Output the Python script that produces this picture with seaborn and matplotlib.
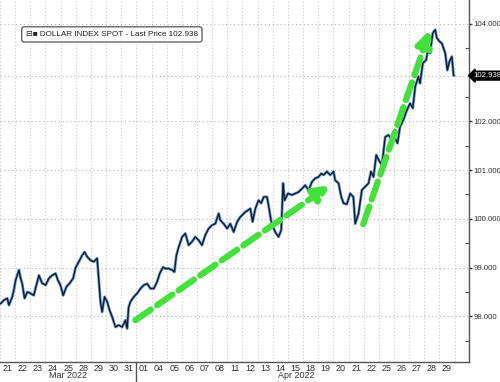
import numpy as np
import pandas as pd
import seaborn as sns
import matplotlib.pyplot as plt
from matplotlib.ticker import FixedLocator, FormatStrFormatter

# trading-day position (0 = Mar 21) and DXY level
pos = [-0.46, -0.25, -0.02, 0.09, 0.31, 0.41, 0.53, 0.75, 0.86, 0.96, 1.12, 1.30, 1.52, 1.73,
       1.85, 2.07, 2.28, 2.51, 2.73, 2.94, 3.17, 3.32, 3.49, 3.67, 3.89, 4.10, 4.33, 4.48,
       4.70, 4.92, 5.08, 5.26, 5.47, 5.69, 5.91, 6.02, 6.13, 6.24, 6.40, 6.57, 6.74, 6.90,
       7.12, 7.33, 7.56, 7.78, 7.89, 7.99, 8.11, 8.33, 8.55, 8.77, 8.99, 9.21, 9.43, 9.65,
       9.87, 10.04, 10.27, 10.41, 10.63, 10.86, 11.01, 11.14, 11.29, 11.52, 11.73, 11.95,
       12.17, 12.39, 12.61, 12.83, 13.05, 13.27, 13.49, 13.71, 13.93, 14.04, 14.26, 14.49,
       14.70, 14.92, 15.15, 15.36, 15.69, 16.02, 16.17, 16.35, 16.56, 16.74, 16.90, 17.12,
       17.22, 17.40, 17.56, 17.72, 17.88, 18.06, 18.18, 18.28, 18.50, 18.77, 18.99, 19.20,
       19.43, 19.64, 19.86, 20.09, 20.30, 20.52, 20.70, 20.86, 21.07, 21.29, 21.51, 21.62,
       21.84, 22.02, 22.17, 22.39, 22.61, 22.82, 22.94, 23.16, 23.38, 23.60, 23.82, 23.98,
       24.15, 24.33, 24.48, 24.70, 24.92, 25.14, 25.36, 25.58, 25.73, 25.90, 26.12, 26.35,
       26.56, 26.74, 26.90, 27.11, 27.22, 27.40, 27.62, 27.77, 27.88, 28.06, 28.22, 28.33,
       28.50, 28.66, 28.88, 29.02, 29.16, 29.32, 29.43, 29.47]
price = [98.26, 98.33, 98.37, 98.23, 98.40, 98.53, 98.74, 98.95, 98.78, 98.68, 98.37, 98.50,
         98.47, 98.43, 98.58, 98.84, 98.68, 98.64, 98.78, 98.84, 98.88, 98.74, 98.64, 98.43,
         98.61, 98.68, 98.78, 98.99, 99.12, 99.25, 99.32, 99.22, 99.15, 99.12, 99.19, 98.74,
         98.30, 98.09, 98.40, 98.30, 98.12, 97.99, 97.78, 97.82, 97.78, 97.92, 97.75, 98.19,
         98.30, 98.40, 98.47, 98.57, 98.64, 98.67, 98.57, 98.57, 98.71, 98.88, 99.01, 98.98,
         98.98, 98.95, 98.91, 99.25, 99.42, 99.63, 99.70, 99.46, 99.53, 99.63, 99.56, 99.46,
         99.67, 99.80, 99.87, 99.90, 100.11, 99.97, 99.90, 99.80, 99.90, 99.73, 99.94, 100.04,
         100.14, 100.21, 99.94, 100.21, 100.38, 100.32, 100.45, 100.45, 100.28, 99.94, 99.80,
         99.70, 99.63, 99.77, 100.73, 100.38, 100.52, 100.49, 100.52, 100.55, 100.62, 100.69,
         100.59, 100.76, 100.83, 100.86, 100.93, 100.90, 100.97, 100.90, 100.97, 100.79,
         100.73, 100.45, 100.32, 100.30, 100.52, 100.45, 99.90, 100.11, 100.59, 100.66, 100.73,
         100.97, 100.86, 101.31, 101.21, 101.10, 101.68, 101.72, 101.62, 101.65, 101.55,
         101.89, 102.03, 102.23, 102.37, 102.27, 102.71, 102.92, 102.78, 103.19, 103.26,
         103.50, 103.40, 103.81, 103.88, 103.71, 103.64, 103.60, 103.40, 103.05, 103.23,
         103.33, 102.95, 102.938]

day_labels = ['21', '22', '23', '24', '25', '28', '29', '30', '31',
              '01', '04', '05', '06', '07', '08', '11', '12', '13', '14', '15',
              '18', '19', '20', '21', '22', '25', '26', '27', '28', '29']
months = ['Mar 2022', 'Apr 2022']
y_ticks = [98, 99, 100, 101, 102, 104]
last_price = 102.938

# green trend arrows (start, end) in day / price units
arrow1 = [(8.44, 97.92), (21.28, 100.69)]
arrow2 = [(23.47, 99.89), (27.88, 103.88)]

df = pd.DataFrame({'pos': pos, 'price': price})

sns.set_style('white')
plt.rcParams['font.family'] = ['Liberation Sans', 'DejaVu Sans']

fig = plt.figure(figsize=(5, 3.82), dpi=100)
ax = fig.add_axes([0.0, 0.052, 0.938, 0.948])

# grid
for k in range(len(day_labels) + 1):
    ax.axvline(k - 0.5, color='#c8c8c8', lw=0.8, ls=(0, (1, 2)), zorder=0)
for v in y_ticks + [last_price]:
    ax.axhline(v, color='#b5b5b5', lw=0.8, ls=(0, (1, 2.5)), zorder=0)

sns.lineplot(data=df, x='pos', y='price', sort=False, estimator=None,
             color='#6f9fd8', lw=2.1, ax=ax, zorder=2)
sns.lineplot(data=df, x='pos', y='price', sort=False, estimator=None,
             color='#101a30', lw=1.0, ax=ax, zorder=3)

for a in (arrow1, arrow2):
    ax.annotate('', xy=a[1], xytext=a[0],
                arrowprops=dict(arrowstyle='-|>,head_length=0.9,head_width=0.45',
                                color='#44e03c', lw=4.5, ls=(0, (3.0, 1.2)),
                                shrinkA=0, shrinkB=0), zorder=4)

ax.set_xlim(-0.46, 30.45)
ax.set_ylim(97.06, 104.49)
ax.set_xlabel('')
ax.set_ylabel('')

# y axis on the right
ax.yaxis.tick_right()
ax.yaxis.set_major_locator(FixedLocator(y_ticks))
ax.yaxis.set_major_formatter(FormatStrFormatter('%.3f'))
ax.yaxis.set_minor_locator(FixedLocator(np.arange(97.5, 104.5, 1.0)))
ax.tick_params(axis='y', which='major', direction='out', length=2.5, width=1,
               labelsize=5.6, colors='#333333', pad=0.8)
ax.tick_params(axis='y', which='minor', direction='in', length=3, width=0.8, colors='#555555')

# x axis: day labels, ticks at day boundaries
ax.set_xticks(range(len(day_labels)))
ax.set_xticklabels(day_labels)
ax.set_xticks(np.arange(-0.5, len(day_labels) + 0.5, 1), minor=True)
ax.tick_params(axis='x', which='major', length=0, labelsize=6.5, colors='#333333', pad=1)
ax.tick_params(axis='x', which='minor', direction='in', length=3, width=0.8, colors='#555555')

for s in ['top', 'left']:
    ax.spines[s].set_visible(False)
for s in ['bottom', 'right']:
    ax.spines[s].set_color('#555555')
    ax.spines[s].set_linewidth(1.0)

# month separator and labels
ax.plot([8.5, 8.5], [0, -0.055], transform=ax.get_xaxis_transform(),
        color='#555555', lw=1.0, clip_on=False)
ax.text(4.0, -0.038, months[0], transform=ax.get_xaxis_transform(),
        ha='center', va='center', fontsize=6.5, color='#333333')
ax.text(19.05, -0.038, months[1], transform=ax.get_xaxis_transform(),
        ha='center', va='center', fontsize=6.5, color='#333333')

# last price tag
ax.annotate(f'{last_price:.3f}', xy=(1.0, last_price), xycoords=('axes fraction', 'data'),
            xytext=(3, 0), textcoords='offset points', ha='left', va='center',
            fontsize=5.6, color='white',
            bbox=dict(boxstyle='larrow,pad=0.12', fc='black', ec='black'))

# legend box
ax.text(0.055, 0.905, '\u229f\u25a0 DOLLAR INDEX SPOT - Last Price 102.938',
        transform=ax.transAxes, ha='left', va='center', fontsize=5.9, color='#222222',
        bbox=dict(boxstyle='round,pad=0.5,rounding_size=0.3', fc='white',
                  ec='#555555', lw=0.9))

fig.savefig('out.png', dpi=100)
